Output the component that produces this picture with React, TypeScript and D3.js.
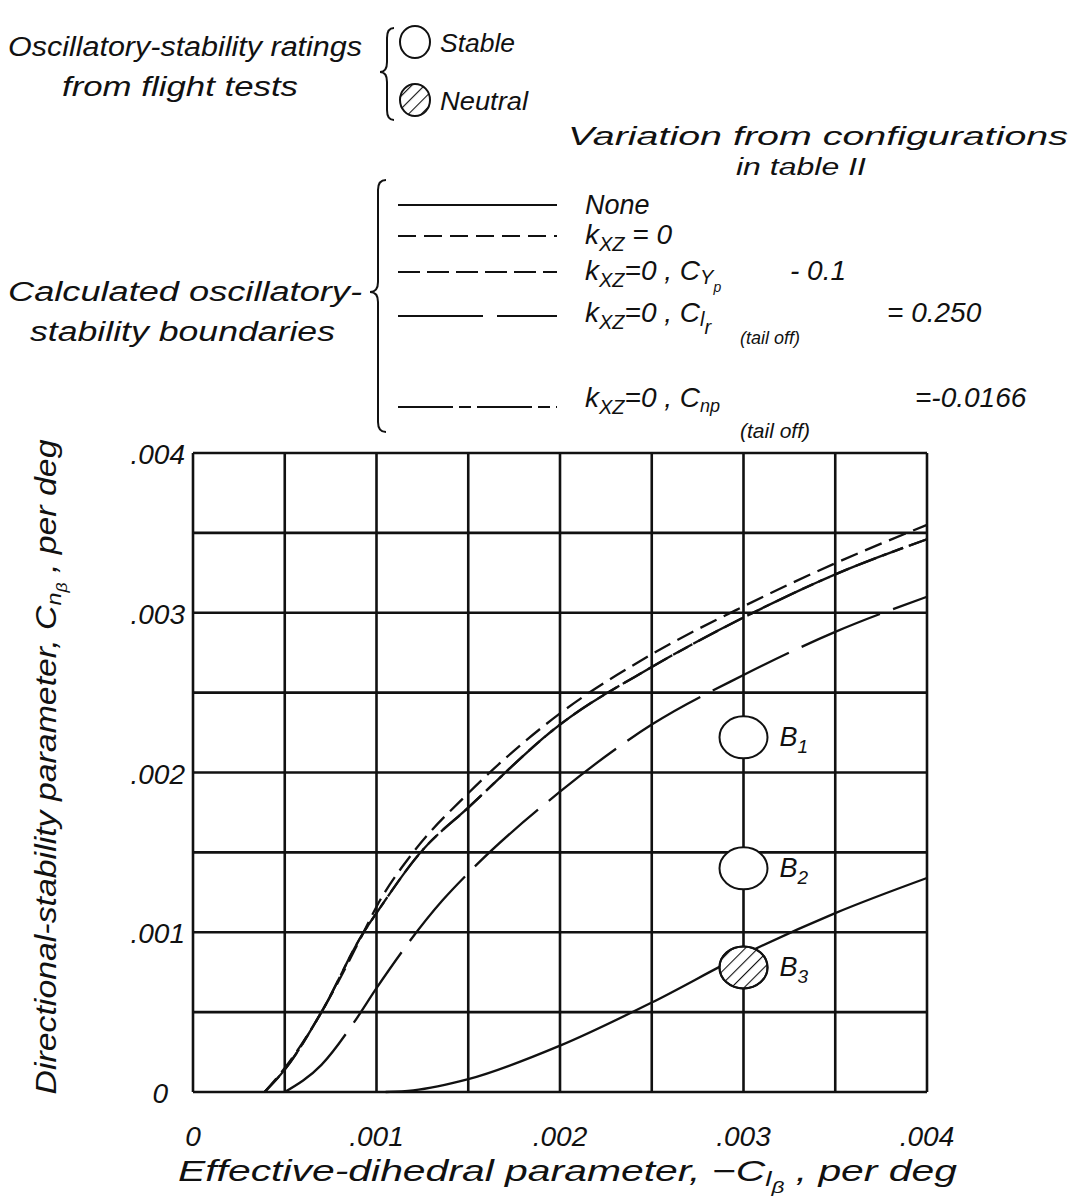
import React from "react";
import * as d3 from "d3";

// ---------- data ----------
const X_TICKS = [0, 0.001, 0.002, 0.003, 0.004];
const X_TICK_LABELS = ["0", ".001", ".002", ".003", ".004"];
const Y_TICKS = [0, 0.001, 0.002, 0.003, 0.004];
const Y_TICK_LABELS = ["0", ".001", ".002", ".003", ".004"];

// None (solid)
const NONE_X = [0.00105, 0.0012, 0.0015, 0.002, 0.0025, 0.003, 0.0035, 0.004];
const NONE_Y = [0, 0.00001, 0.00008, 0.00029, 0.00056, 0.00086, 0.00112, 0.00134];
// k_xz = 0 (short dash)
const KXZ_X = [0.00039, 0.0005, 0.0007, 0.00093, 0.001, 0.0012, 0.0015, 0.002, 0.0025, 0.003, 0.0035, 0.004];
const KXZ_Y = [0, 0.00015, 0.0005, 0.001, 0.00116, 0.0015, 0.00187, 0.00237, 0.00274, 0.00304, 0.00331, 0.00355];
// k_xz = 0, Cyp -0.1 (dash)
const CYP_X = [0.00039, 0.0005, 0.0007, 0.00093, 0.001, 0.00124, 0.0015, 0.002, 0.0025, 0.003, 0.0035, 0.004];
const CYP_Y = [0, 0.00014, 0.0005, 0.001, 0.00112, 0.0015, 0.00178, 0.0023, 0.00266, 0.00297, 0.00324, 0.00346];
// k_xz = 0, Clr (tail off) = 0.250 (long dash)
const CLR_X = [0.0005, 0.0007, 0.00088, 0.001, 0.00136, 0.0015, 0.002, 0.0025, 0.003, 0.0035, 0.004];
const CLR_Y = [0, 0.00017, 0.00044, 0.00065, 0.0012, 0.00137, 0.00188, 0.0023, 0.00261, 0.00288, 0.0031];
// k_xz = 0, Cnp (tail off) = -0.0166 (long-short-long)
const CNP_X = [0.00039, 0.0005, 0.0007, 0.00093, 0.001, 0.00124, 0.0015, 0.002, 0.0025, 0.003, 0.0035, 0.004];
const CNP_Y = [0, 0.00014, 0.0005, 0.001, 0.00112, 0.0015, 0.00178, 0.0023, 0.00266, 0.00297, 0.00324, 0.00346];

// flight-test ratings
const RATING_X = [0.003, 0.003, 0.003];
const RATING_Y = [0.00222, 0.0014, 0.00078];
const RATING_NAMES = ["1", "2", "3"];
const RATING_NEUTRAL = [false, false, true];

const SERIES = [
  { key: "none", xs: NONE_X, ys: NONE_Y, dash: "none" },
  { key: "kxz", xs: KXZ_X, ys: KXZ_Y, dash: "18,8" },
  { key: "cyp", xs: CYP_X, ys: CYP_Y, dash: "22,7" },
  { key: "clr", xs: CLR_X, ys: CLR_Y, dash: "85,14" },
  { key: "cnp", xs: CNP_X, ys: CNP_Y, dash: "55,6,12,6" },
];
const LEGEND_Y = [205, 236, 272, 316, 407];

const FONT = "'Liberation Sans', Arial, sans-serif";
const INK = "#111";

function brace(x: number, y1: number, ym: number, y2: number, w: number) {
  const r = 10;
  const xm = x + w / 2;
  return `M${x + w},${y1} Q${xm},${y1} ${xm},${y1 + r} L${xm},${ym - r} Q${xm},${ym} ${x},${ym} Q${xm},${ym} ${xm},${ym + r} L${xm},${y2 - r} Q${xm},${y2} ${x + w},${y2}`;
}

export default function App() {
  const x = d3.scaleLinear().domain([0, 0.004]).range([193, 927]);
  const y = d3.scaleLinear().domain([0, 0.004]).range([1092, 453]);
  const grid = d3.range(0, 0.0040001, 0.0005);
  const line = d3
    .line<[number, number]>()
    .x((d) => x(d[0]))
    .y((d) => y(d[1]))
    .curve(d3.curveMonotoneX);

  const T = (props: any) => (
    <text fontFamily={FONT} fontStyle="italic" fill={INK} {...props} />
  );

  return (
    <svg
      width={1079}
      height={1197}
      style={{ position: "absolute", left: 0, top: 0, background: "#fff" }}
    >
      <defs>
        <pattern id="hatch" patternUnits="userSpaceOnUse" width={9} height={9} patternTransform="rotate(45)">
          <line x1={0} y1={0} x2={0} y2={9} stroke={INK} strokeWidth={2.2} />
        </pattern>
      </defs>
      <rect width={1079} height={1197} fill="#fff" />

      {/* ---------- top legend: ratings ---------- */}
      <T x={8} y={56} fontSize={27} textLength={354} lengthAdjust="spacingAndGlyphs">Oscillatory-stability ratings</T>
      <T x={62} y={96} fontSize={27} textLength={236} lengthAdjust="spacingAndGlyphs">from flight tests</T>
      <path d={brace(380, 28, 72, 120, 14)} fill="none" stroke={INK} strokeWidth={2} />
      <ellipse cx={415} cy={42} rx={15} ry={16} fill="#fff" stroke={INK} strokeWidth={2} />
      <ellipse cx={415} cy={100} rx={15} ry={16} fill="url(#hatch)" stroke={INK} strokeWidth={2} />
      <T x={440} y={52} fontSize={26} textLength={75} lengthAdjust="spacingAndGlyphs">Stable</T>
      <T x={440} y={110} fontSize={26} textLength={88} lengthAdjust="spacingAndGlyphs">Neutral</T>

      <T x={568} y={145} fontSize={25} textLength={500} lengthAdjust="spacingAndGlyphs">Variation from configurations</T>
      <T x={736} y={175} fontSize={23} textLength={130} lengthAdjust="spacingAndGlyphs">in table II</T>

      {/* ---------- legend: calculated boundaries ---------- */}
      <T x={8} y={301} fontSize={27} textLength={354} lengthAdjust="spacingAndGlyphs">Calculated oscillatory-</T>
      <T x={30} y={341} fontSize={27} textLength={305} lengthAdjust="spacingAndGlyphs">stability boundaries</T>
      <path d={brace(370, 180, 292, 432, 16)} fill="none" stroke={INK} strokeWidth={2} />
      {SERIES.map((s, i) => (
        <line
          key={s.key}
          x1={398}
          x2={557}
          y1={LEGEND_Y[i]}
          y2={LEGEND_Y[i]}
          stroke={INK}
          strokeWidth={2.2}
          strokeDasharray={s.dash}
        />
      ))}
      <T x={585} y={214} fontSize={27}>None</T>
      <T x={585} y={244} fontSize={28}>
        k<tspan fontSize={20} dy={7}>XZ</tspan>
        <tspan dy={-7}> = 0</tspan>
      </T>
      <T x={585} y={280} fontSize={28}>
        k<tspan fontSize={20} dy={7}>XZ</tspan>
        <tspan dy={-7}>=0 ,  C</tspan>
        <tspan fontSize={20} dy={4}>Y</tspan>
        <tspan fontSize={14} dy={8}>p</tspan>
        <tspan x={790} dy={-12}>- 0.1</tspan>
      </T>
      <T x={585} y={322} fontSize={28}>
        k<tspan fontSize={20} dy={7}>XZ</tspan>
        <tspan dy={-7}>=0 ,  C</tspan>
        <tspan fontSize={20} dy={4}>l</tspan>
        <tspan fontSize={20} dy={8}>r</tspan>
      </T>
      <T x={740} y={344} fontSize={18}>(tail off)</T>
      <T x={887} y={322} fontSize={28}>=  0.250</T>
      <T x={585} y={407} fontSize={28}>
        k<tspan fontSize={20} dy={7}>XZ</tspan>
        <tspan dy={-7}>=0 ,  C</tspan>
        <tspan fontSize={18} dy={5}>np</tspan>
      </T>
      <T x={740} y={438} fontSize={21}>(tail off)</T>
      <T x={915} y={407} fontSize={28}>=-0.0166</T>

      {/* ---------- grid ---------- */}
      {grid.map((g) => (
        <line key={"v" + g} x1={x(g)} x2={x(g)} y1={y(0)} y2={y(0.004)} stroke={INK} strokeWidth={2.6} />
      ))}
      {grid.map((g) => (
        <line key={"h" + g} x1={x(0)} x2={x(0.004)} y1={y(g)} y2={y(g)} stroke={INK} strokeWidth={2.6} />
      ))}

      {/* ---------- curves ---------- */}
      {SERIES.map((s) => (
        <path
          key={s.key}
          d={line(s.xs.map((v, i) => [v, s.ys[i]] as [number, number])) || ""}
          fill="none"
          stroke={INK}
          strokeWidth={2.3}
          strokeDasharray={s.dash}
        />
      ))}

      {/* ---------- flight-test points ---------- */}
      {RATING_X.map((v, i) => (
        <g key={"r" + i}>
          <ellipse cx={x(v)} cy={y(RATING_Y[i])} rx={24} ry={21} fill="#fff" stroke={INK} strokeWidth={2} />
          {RATING_NEUTRAL[i] && (
            <ellipse cx={x(v)} cy={y(RATING_Y[i])} rx={24} ry={21} fill="url(#hatch)" stroke={INK} strokeWidth={2} />
          )}
          <T x={x(v) + 36} y={y(RATING_Y[i]) + 9} fontSize={27}>
            B<tspan fontSize={19} dy={7}>{RATING_NAMES[i]}</tspan>
          </T>
        </g>
      ))}

      {/* ---------- axes labels ---------- */}
      {Y_TICKS.map((v, i) => (
        <T key={"yt" + i} x={i === 0 ? 168 : 185} y={y(v) + 11} fontSize={28} textAnchor="end">
          {Y_TICK_LABELS[i]}
        </T>
      ))}
      {X_TICKS.map((v, i) => (
        <T key={"xt" + i} x={x(v)} y={1146} fontSize={28} textAnchor="middle">
          {X_TICK_LABELS[i]}
        </T>
      ))}
      <T x={178} y={1181} fontSize={29} textLength={779} lengthAdjust="spacingAndGlyphs">
        Effective-dihedral parameter, −C<tspan fontSize={20} dy={5}>l</tspan>
        <tspan fontSize={16} dy={7}>β</tspan>
        <tspan dy={-12}> , per deg</tspan>
      </T>
      <g transform="translate(56, 767) rotate(-90)">
        <T x={0} y={0} fontSize={29} textAnchor="middle" textLength={655} lengthAdjust="spacingAndGlyphs">
          Directional-stability parameter, C<tspan fontSize={20} dy={5}>n</tspan>
          <tspan fontSize={15} dy={6}>β</tspan>
          <tspan dy={-11}> , per deg</tspan>
        </T>
      </g>
    </svg>
  );
}
